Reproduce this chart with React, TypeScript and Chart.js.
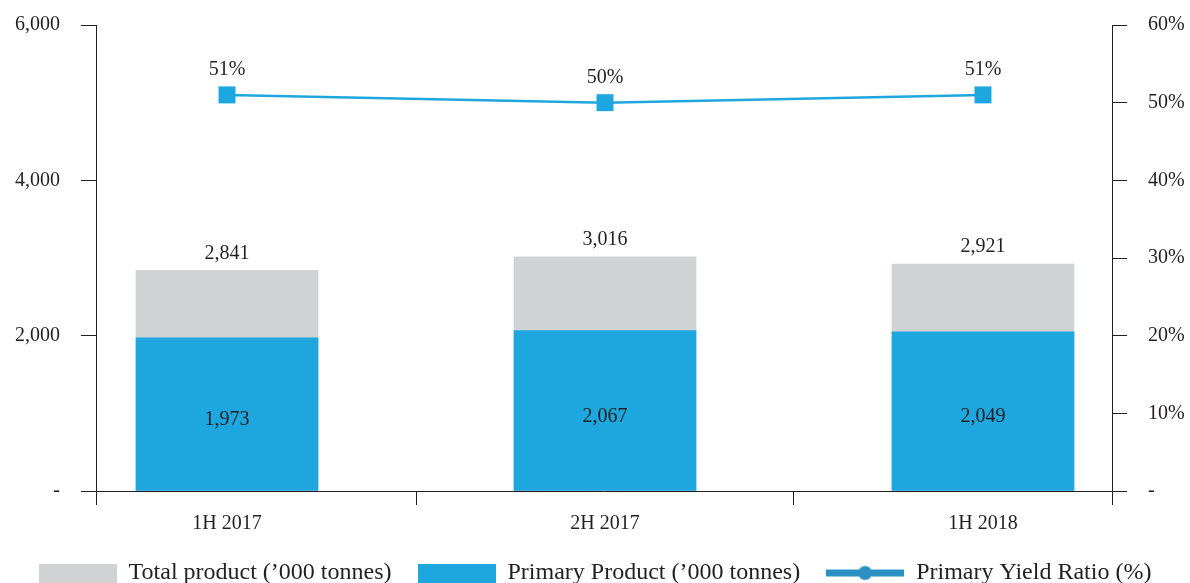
import { useEffect, useRef } from 'react';
import { Chart, registerables } from 'chart.js';

Chart.register(...registerables);

const categories = ['1H 2017', '2H 2017', '1H 2018'];
const totalProduct = [2841, 3016, 2921];
const primaryProduct = [1973, 2067, 2049];
const yieldRatio = [51, 50, 51];
const yieldLabels = ['51%', '50%', '51%'];
const legendLabels = [
  'Total product (\u2019000 tonnes)',
  'Primary Product (\u2019000 tonnes)',
  'Primary Yield Ratio (%)',
];

const GRAY = '#d1d2d4';
const BLUE = '#1ea7df';
const LEGEND_LINE = '#2b90c2';
const INK = '#231f20';
const FONT = '"Liberation Serif", "Times New Roman", serif';

function makeIcon(kind: 'box' | 'line', color: string): HTMLCanvasElement {
  const c = document.createElement('canvas');
  c.width = 78;
  c.height = 19;
  const g = c.getContext('2d')!;
  g.fillStyle = color;
  if (kind === 'box') {
    g.fillRect(0, 0, 78, 19);
  } else {
    g.fillRect(0, 6, 78, 7);
    g.beginPath();
    g.arc(39, 9.5, 7, 0, Math.PI * 2);
    g.fill();
  }
  return c;
}

export default function App() {
  const ref = useRef<HTMLCanvasElement>(null);

  useEffect(() => {
    if (!ref.current) return;
    const icons = [makeIcon('box', GRAY), makeIcon('box', BLUE), makeIcon('line', LEGEND_LINE)];
    const colors = [GRAY, BLUE, LEGEND_LINE];

    const labelPlugin = {
      id: 'valueLabels',
      afterDatasetsDraw(chart: any) {
        const ctx = chart.ctx;
        ctx.save();
        ctx.font = `20px ${FONT}`;
        ctx.fillStyle = INK;
        ctx.textAlign = 'center';
        ctx.textBaseline = 'middle';
        chart.getDatasetMeta(0).data.forEach((el: any, i: number) => {
          ctx.fillText(totalProduct[i].toLocaleString('en-US'), el.x, el.y - 17);
        });
        chart.getDatasetMeta(1).data.forEach((el: any, i: number) => {
          ctx.fillText(primaryProduct[i].toLocaleString('en-US'), el.x, (el.y + el.base) / 2 + 6);
        });
        chart.getDatasetMeta(2).data.forEach((el: any, i: number) => {
          ctx.fillText(yieldLabels[i], el.x, el.y - 25);
        });
        ctx.restore();
      },
    };

    const chart = new Chart(ref.current, {
      type: 'bar',
      data: {
        datasets: [
          {
            type: 'bar',
            label: legendLabels[0],
            data: totalProduct.map((v, i) => ({ x: i, y: v })),
            backgroundColor: GRAY,
            grouped: false,
            order: 3,
            yAxisID: 'y',
            xAxisID: 'x',
            barThickness: 182,
          },
          {
            type: 'bar',
            label: legendLabels[1],
            data: primaryProduct.map((v, i) => ({ x: i, y: v })),
            backgroundColor: BLUE,
            grouped: false,
            order: 2,
            yAxisID: 'y',
            xAxisID: 'x',
            barThickness: 182,
          },
          {
            type: 'line',
            label: legendLabels[2],
            data: yieldRatio.map((v, i) => ({ x: i, y: v })),
            borderColor: BLUE,
            backgroundColor: BLUE,
            borderWidth: 2.5,
            pointStyle: 'rect',
            pointRadius: 12,
            pointBorderWidth: 0,
            pointBackgroundColor: BLUE,
            order: 1,
            yAxisID: 'y1',
            xAxisID: 'x',
          } as any,
        ],
      },
      options: {
        responsive: false,
        animation: false,
        devicePixelRatio: 1,
        layout: { padding: { top: 17, left: 0, right: 0, bottom: 0 } },
        font: { family: FONT, size: 20 },
        color: INK,
        plugins: {
          tooltip: { enabled: false },
          legend: {
            position: 'bottom',
            labels: {
              font: { family: FONT, size: 24 },
              color: INK,
              usePointStyle: true,
              pointStyleWidth: 78,
              boxHeight: 19,
              padding: 26,
              generateLabels: () =>
                legendLabels.map((text, i) => ({
                  text,
                  pointStyle: icons[i] as any,
                  fillStyle: colors[i],
                  strokeStyle: 'rgba(0,0,0,0)',
                  lineWidth: 0,
                  hidden: false,
                  datasetIndex: i,
                  fontColor: INK,
                })),
            },
          },
        },
        scales: {
          x: {
            type: 'linear',
            position: 'bottom',
            offset: false,
            min: -0.3466,
            max: 2.3413,
            afterBuildTicks: (scale: any) => {
              const vals: number[] = [scale.min];
              categories.forEach((_, i) => {
                if (i > 0) vals.push(i - 0.5);
                vals.push(i);
              });
              vals.push(scale.max);
              scale.ticks = vals.map((v) => ({ value: v }));
            },
            afterFit: (scale: any) => {
              scale.height = 44;
            },
            ticks: {
              autoSkip: false,
              maxRotation: 0,
              padding: 7,
              color: INK,
              font: { family: FONT, size: 20 },
              callback: (v: any) => (Number.isInteger(v) ? categories[v] : ''),
            },
            grid: {
              offset: false,
              drawOnChartArea: false,
              drawTicks: true,
              tickLength: 14,
              lineWidth: 1,
              color: (c: any) =>
                c.tick && Number.isInteger(c.tick.value) ? 'rgba(0,0,0,0)' : INK,
            },
            border: { display: true, color: INK, width: 1 },
          },
          y: {
            type: 'linear',
            position: 'left',
            min: 0,
            max: 6000,
            afterFit: (scale: any) => {
              scale.width = 96;
            },
            ticks: {
              stepSize: 2000,
              padding: 21,
              color: INK,
              font: { family: FONT, size: 20 },
              callback: (v: any) => (v === 0 ? '-' : Number(v).toLocaleString('en-US')),
            },
            grid: {
              drawOnChartArea: false,
              drawTicks: true,
              tickLength: 15,
              color: INK,
            },
            border: { display: true, color: INK, width: 1 },
          },
          y1: {
            type: 'linear',
            position: 'right',
            min: 0,
            max: 60,
            afterFit: (scale: any) => {
              scale.width = 78;
            },
            ticks: {
              stepSize: 10,
              padding: 21,
              color: INK,
              font: { family: FONT, size: 20 },
              callback: (v: any) => (v === 0 ? '-' : v + '%'),
            },
            grid: {
              drawOnChartArea: false,
              drawTicks: true,
              tickLength: 15,
              color: INK,
            },
            border: { display: true, color: INK, width: 1 },
          },
        },
      },
      plugins: [labelPlugin],
    } as any);

    return () => chart.destroy();
  }, []);

  return (
    <div
      style={{
        position: 'absolute',
        left: 0,
        top: 0,
        width: 1190,
        height: 583,
        overflow: 'hidden',
        background: '#fff',
      }}
    >
      <canvas
        ref={ref}
        width={1190}
        height={603}
        style={{ width: 1190, height: 603, display: 'block', marginTop: -8 }}
      />
    </div>
  );
}
